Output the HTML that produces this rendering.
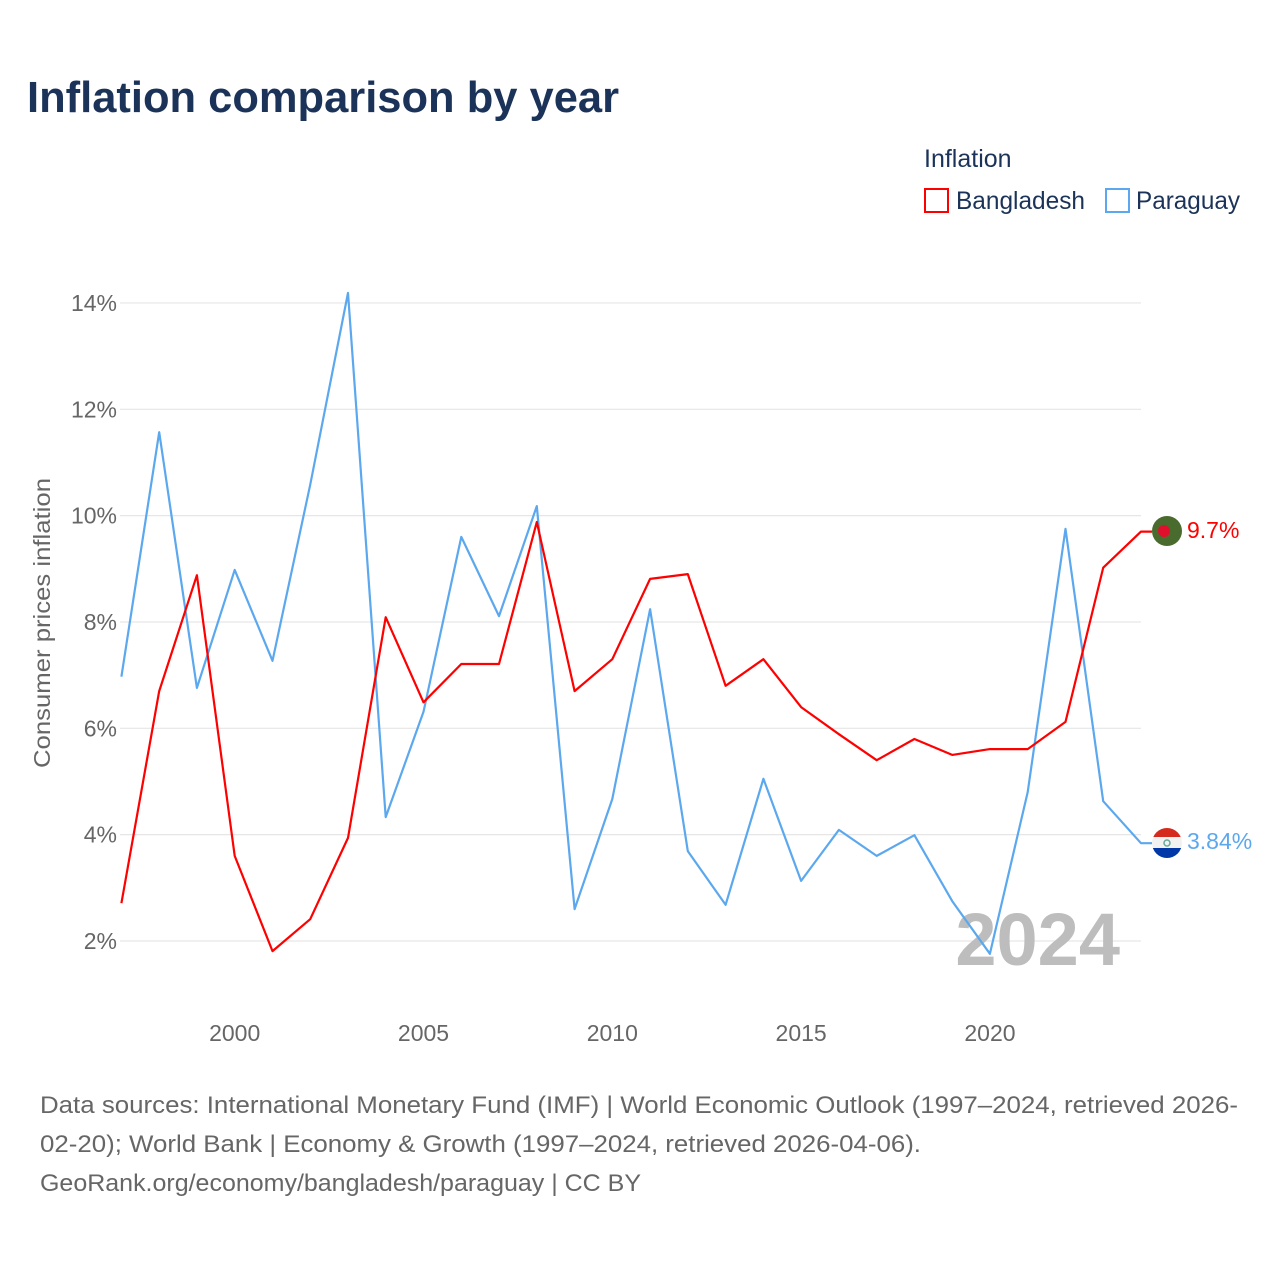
<!DOCTYPE html>
<html><head><meta charset="utf-8"><style>
body{margin:0;background:#fff;font-family:"Liberation Sans",sans-serif;}
#wrap{position:relative;width:1280px;height:1280px;overflow:hidden;}
</style></head><body>
<div id="wrap">
<svg id="chart" width="1280" height="1280" xmlns="http://www.w3.org/2000/svg">
<text x="27" y="112" font-size="44" font-weight="bold" fill="#1b3358" textLength="592" lengthAdjust="spacingAndGlyphs">Inflation comparison by year</text>
<text x="924" y="167" font-size="25" fill="#1b3358">Inflation</text>
<g><rect x="925" y="189" width="23" height="23" fill="none" stroke="#ff0000" stroke-width="2"/><text x="956" y="209" font-size="25" fill="#1b3358" textLength="129" lengthAdjust="spacingAndGlyphs">Bangladesh</text></g>
<g><rect x="1106" y="189" width="23" height="23" fill="none" stroke="#5ca8ee" stroke-width="2"/><text x="1136" y="209" font-size="25" fill="#1b3358" textLength="104" lengthAdjust="spacingAndGlyphs">Paraguay</text></g>
<text transform="translate(50,623) rotate(-90)" text-anchor="middle" font-size="23" fill="#666" textLength="290" lengthAdjust="spacingAndGlyphs">Consumer prices inflation</text>
<g id="grid"></g><g id="xt"></g>
<text x="1120" y="965" text-anchor="end" font-size="74" font-weight="bold" fill="#bdbdbd">2024</text>
<g id="lines"></g>
<g><circle cx="1167" cy="531" r="15" fill="#4a6b2e"/><circle cx="1164" cy="531" r="6" fill="#e0102d"/></g>
<g><clipPath id="pc"><circle cx="1167" cy="843" r="15"/></clipPath><g clip-path="url(#pc)"><rect x="1150" y="826" width="34" height="11" fill="#d52b1e"/><rect x="1150" y="837" width="34" height="11" fill="#f2f2f2"/><rect x="1150" y="848" width="34" height="12" fill="#0038a8"/><circle cx="1167" cy="843" r="3" fill="none" stroke="#6a9" stroke-width="1.5"/></g></g>
<text x="1187" y="538" font-size="23" fill="#ff0000">9.7%</text>
<text x="1187" y="849" font-size="23" fill="#5ca8ee">3.84%</text>
<text font-size="24" fill="#666"><tspan x="40" y="1113" textLength="1198" lengthAdjust="spacingAndGlyphs">Data sources: International Monetary Fund (IMF) | World Economic Outlook (1997–2024, retrieved 2026-</tspan><tspan x="40" y="1152" textLength="881" lengthAdjust="spacingAndGlyphs">02-20); World Bank | Economy &amp; Growth (1997–2024, retrieved 2026-04-06).</tspan><tspan x="40" y="1191" textLength="601" lengthAdjust="spacingAndGlyphs">GeoRank.org/economy/bangladesh/paraguay | CC BY</tspan></text>
</svg></div>
<script>
const years=[1997,1998,1999,2000,2001,2002,2003,2004,2005,2006,2007,2008,2009,2010,2011,2012,2013,2014,2015,2016,2017,2018,2019,2020,2021,2022,2023,2024];
const bangladesh=[2.71,6.70,8.88,3.6,1.81,2.41,3.94,8.09,6.49,7.21,7.21,9.88,6.70,7.30,8.81,8.90,6.80,7.30,6.40,5.89,5.40,5.80,5.50,5.61,5.61,6.12,9.02,9.7];
const paraguay=[6.97,11.57,6.76,8.98,7.27,10.58,14.19,4.33,6.31,9.6,8.11,10.18,2.6,4.67,8.24,3.69,2.68,5.05,3.13,4.09,3.6,3.99,2.75,1.76,4.80,9.75,4.63,3.84];
const yTicks=[2,4,6,8,10,12,14];
const xTicks=[2000,2005,2010,2015,2020];
const NS="http://www.w3.org/2000/svg";
function xs(y){return 121.4+(y-1997)*(1141-121.4)/27;}
function ys(v){return 941-(v-2)*53.17;}
const grid=document.getElementById('grid');
yTicks.forEach(t=>{
 const l=document.createElementNS(NS,'line');
 l.setAttribute('x1',120);l.setAttribute('x2',1141);l.setAttribute('y1',ys(t));l.setAttribute('y2',ys(t));
 l.setAttribute('stroke','#e6e6e6');l.setAttribute('stroke-width','1.2');
 
 
 grid.appendChild(l);
 const tx=document.createElementNS(NS,'text');
 tx.setAttribute('x',117);tx.setAttribute('y',ys(t)+8);tx.setAttribute('text-anchor','end');
 tx.setAttribute('font-size','23');tx.setAttribute('fill','#666');tx.textContent=t+'%';
 
 
 grid.appendChild(tx);
});
const xt=document.getElementById('xt');
xTicks.forEach(t=>{
 const tx=document.createElementNS(NS,'text');
 tx.setAttribute('x',xs(t));tx.setAttribute('y',1041);tx.setAttribute('text-anchor','middle');
 tx.setAttribute('font-size','23');tx.setAttribute('fill','#666');tx.textContent=t;
 
 
 xt.appendChild(tx);
});
const lines=document.getElementById('lines');
[[paraguay,'#5ca8ee','paraguay-line'],[bangladesh,'#ff0000','bangladesh-line']].forEach(([d,c,n])=>{
 const p=document.createElementNS(NS,'polyline');
 let pts=d.map((v,i)=>xs(years[i]).toFixed(1)+','+ys(v).toFixed(1));
 pts.push('1152,'+ys(d[d.length-1]).toFixed(1));
 p.setAttribute('points',pts.join(' '));
 p.setAttribute('fill','none');p.setAttribute('stroke',c);p.setAttribute('stroke-width','2.2');p.setAttribute('stroke-linejoin','round');
 
 
 lines.appendChild(p);
});
</script>
</body></html>
